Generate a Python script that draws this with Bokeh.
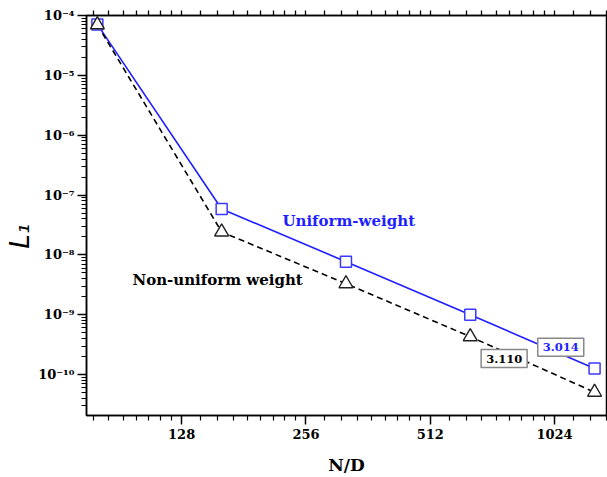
from bokeh.plotting import figure
from bokeh.models import FixedTicker, LogAxis, Label, Range1d
from bokeh.embed import file_html
from bokeh.resources import INLINE

# data
n_d = [80, 160, 320, 640, 1280]
uniform = [7.1e-5, 5.85e-8, 7.7e-9, 1.0e-9, 1.26e-10]
non_uniform = [7.0e-5, 2.42e-8, 3.3e-9, 4.3e-10, 5.07e-11]
x_ticks = [128, 256, 512, 1024]
y_ticks = [1e-10, 1e-9, 1e-8, 1e-7, 1e-6, 1e-5, 1e-4]
y_tick_labels = ["10⁻¹⁰", "10⁻⁹", "10⁻⁸", "10⁻⁷", "10⁻⁶", "10⁻⁵", "10⁻⁴"]
slope_uniform = "3.014"
slope_non_uniform = "3.110"

FONT = "DejaVu Serif"
BLUE = "#1f1fff"

p = figure(width=607, height=477, x_axis_type="log", y_axis_type="log",
           x_range=Range1d(75.3, 1368), y_range=Range1d(2.07e-11, 1e-4),
           output_backend="svg", toolbar_location=None,
           min_border_left=86, min_border_right=1, min_border_top=15,
           min_border_bottom=61)
p.background_fill_color = "white"
p.border_fill_color = "white"
p.grid.visible = False
p.outline_line_color = "black"
p.outline_line_width = 1.5

x_minor = [b * (1 + k / 9) for b in [32, 64, 128, 256, 512, 1024] for k in range(1, 9)]
y_minor = [m * 10.0 ** e for e in range(-12, -3) for m in range(2, 10)]

xt = FixedTicker(ticks=x_ticks, minor_ticks=x_minor)
yt = FixedTicker(ticks=y_ticks, minor_ticks=y_minor)

xa = p.xaxis[0]
xa.ticker = xt
xa.major_label_overrides = {t: str(t) for t in x_ticks}
ya = p.yaxis[0]
ya.ticker = yt
ya.major_label_overrides = dict(zip(y_ticks, y_tick_labels))

for ax in (xa, ya):
    ax.axis_line_width = 1.5
    ax.major_tick_line_width = 1.5
    ax.minor_tick_line_width = 1.2
    ax.major_tick_in = 0
    ax.minor_tick_in = 0
    ax.major_tick_out = 9
    ax.minor_tick_out = 5
    ax.major_label_text_font = FONT
    ax.major_label_text_font_style = "bold"
    ax.major_label_text_font_size = "13px"
    ax.major_label_text_color = "black"
    ax.axis_label_text_color = "black"

xa.major_label_standoff = 4
xa.axis_label = "N/D"
xa.axis_label_text_font = FONT
xa.axis_label_text_font_style = "bold"
xa.axis_label_text_font_size = "17px"
xa.axis_label_standoff = 13

ya.major_label_standoff = 3
# trailing no-break spaces push the rotated title down to where the reference has it
ya.axis_label = "L₁" + "\u00a0" * 5
ya.axis_label_text_font = "DejaVu Sans"
ya.axis_label_text_font_style = "italic"
ya.axis_label_text_font_size = "26px"
ya.axis_label_standoff = 0

# top axis: ticks only (all drawn as minor ticks so that no labels are produced)
top_ticker = FixedTicker(ticks=[], minor_ticks=x_ticks + x_minor)
top = LogAxis(ticker=top_ticker, axis_line_width=1.5, minor_tick_line_width=1.3,
              minor_tick_in=0, minor_tick_out=5, major_tick_out=0, major_label_standoff=0)
p.add_layout(top, "above")

# lines
p.line(n_d, uniform, line_color=BLUE, line_width=1.6)
p.line(n_d, non_uniform, line_color="black", line_width=1.6, line_dash="6 4")
p.scatter(n_d, uniform, marker="square", size=11, line_color="#3a3aff",
          fill_color="white", line_width=1.5)
p.scatter(n_d, non_uniform, marker="triangle", size=14, line_color="#222222",
          fill_color="white", line_width=1.4)

p.add_layout(Label(x=325, y=3.69e-8, text="Uniform-weight", text_font=FONT,
                   text_font_style="bold", text_font_size="15px", text_color=BLUE,
                   text_align="center", text_baseline="middle"))
p.add_layout(Label(x=156.4, y=3.83e-9, text="Non-uniform weight", text_font=FONT,
                   text_font_style="bold", text_font_size="15px", text_color="black",
                   text_align="center", text_baseline="middle"))
p.add_layout(Label(x=773, y=1.85e-10, text=slope_non_uniform, text_font=FONT,
                   text_font_style="bold", text_font_size="11.5px", text_color="black",
                   text_align="center", text_baseline="middle",
                   background_fill_color="white", border_line_color="#888888",
                   border_line_width=1.5, padding=5))
p.add_layout(Label(x=1060, y=2.87e-10, text=slope_uniform, text_font=FONT,
                   text_font_style="bold", text_font_size="11.5px", text_color=BLUE,
                   text_align="center", text_baseline="middle",
                   background_fill_color="white", border_line_color="#888888",
                   border_line_width=1.5, padding=5))

open("out.html", "w").write(file_html(p, INLINE))
